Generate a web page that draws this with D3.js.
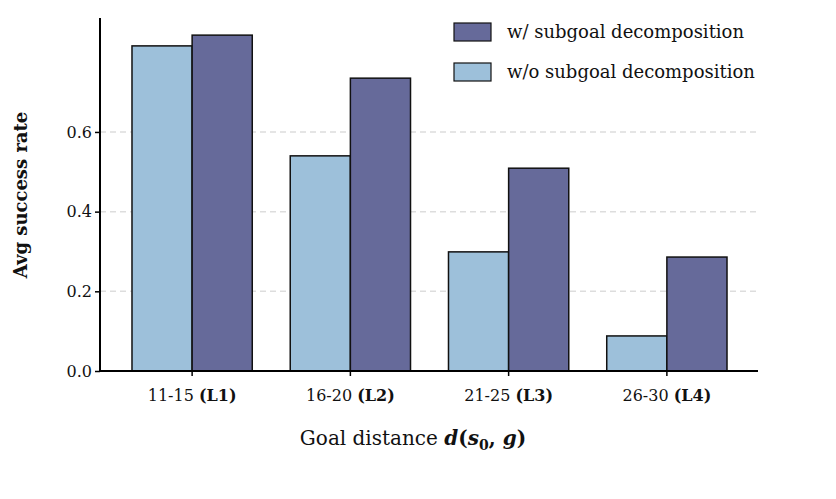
<!DOCTYPE html>
<html><head><meta charset="utf-8">
<script src="https://cdn.jsdelivr.net/npm/d3@7"></script>
<style>body{margin:0;background:#fff}text{font-family:"DejaVu Serif",serif}</style>
</head><body><svg id="c" width="836" height="499"></svg>
<script>
const categories = ["11-15", "16-20", "21-25", "26-30"];
const levels = ["(L1)", "(L2)", "(L3)", "(L4)"];
const withoutDecomp = [0.816, 0.540, 0.299, 0.088];
const withDecomp = [0.843, 0.735, 0.509, 0.286];
const yTicks = [0, 0.2, 0.4, 0.6];
const seriesNames = ["w/o subgoal decomposition", "w/ subgoal decomposition"];
const colors = ["#9dc0da", "#666a9a"];

const svg = d3.select("#c");
const x = d3.scaleBand().domain(categories).range([113, 746]).paddingInner(0.24).paddingOuter(0.12);
const xs = d3.scaleBand().domain([0, 1]).range([0, x.bandwidth()]);
const y = d3.scaleLinear().domain([0, 0.886]).range([371, 18]);

svg.append("g").selectAll("line").data(yTicks.slice(1)).join("line")
  .attr("x1", 100).attr("x2", 758).attr("y1", d => y(d)).attr("y2", d => y(d))
  .attr("stroke", "#dddddd").attr("stroke-width", 1.5).attr("stroke-dasharray", "6,4");

const series = [withoutDecomp, withDecomp];
series.forEach((vals, si) => {
  svg.append("g").selectAll("rect").data(vals).join("rect")
    .attr("x", (d, i) => x(categories[i]) + xs(si))
    .attr("width", xs.bandwidth())
    .attr("y", d => y(d)).attr("height", d => y(0) - y(d))
    .attr("fill", colors[si]).attr("stroke", "#111").attr("stroke-width", 1.5);
});

const ya = svg.append("g").attr("transform", "translate(100,0)")
  .call(d3.axisLeft(y).tickValues(yTicks).tickFormat(d3.format(".1f")).tickSize(5));
ya.select(".domain").attr("stroke-width", 2).attr("d", "M0," + y(0) + "V18");
ya.selectAll("text").attr("font-size", 16).attr("fill", "#111");
ya.selectAll(".tick line").attr("stroke-width", 1.5);

const xa = svg.append("g").attr("transform", "translate(0," + y(0) + ")")
  .call(d3.axisBottom(x).tickSize(5).tickFormat(""));
xa.select(".domain").attr("stroke-width", 2).attr("d", "M100,0H758");
xa.selectAll(".tick line").attr("stroke-width", 1.5);
xa.selectAll(".tick").append("text").attr("y", 30).attr("fill", "#111").attr("font-size", 16)
  .attr("text-anchor", "middle")
  .each(function(d, i) {
    const t = d3.select(this);
    t.append("tspan").text(d + " ");
    t.append("tspan").attr("font-weight", "bold").text(levels[i]);
  });

svg.append("text").attr("transform", "translate(27,195) rotate(-90)").attr("text-anchor", "middle")
  .attr("font-size", 18).attr("font-weight", "bold").attr("fill", "#111").text("Avg success rate");

const xl = svg.append("text").attr("x", 413).attr("y", 445).attr("text-anchor", "middle")
  .attr("font-size", 20).attr("fill", "#111");
xl.append("tspan").text("Goal distance ");
xl.append("tspan").attr("font-weight", "bold").attr("font-style", "italic").text("d");
xl.append("tspan").attr("font-weight", "bold").text("(");
xl.append("tspan").attr("font-weight", "bold").attr("font-style", "italic").text("s");
xl.append("tspan").attr("font-weight", "bold").attr("font-size", 14).attr("dy", 5).text("0");
xl.append("tspan").attr("font-weight", "bold").attr("dy", -5).text(", ");
xl.append("tspan").attr("font-weight", "bold").attr("font-style", "italic").text("g");
xl.append("tspan").attr("font-weight", "bold").text(")");

const legend = [[seriesNames[1], colors[1]], [seriesNames[0], colors[0]]];
legend.forEach((l, i) => {
  const yy = 23 + i * 40;
  svg.append("rect").attr("x", 454).attr("y", yy).attr("width", 37).attr("height", 18)
    .attr("fill", l[1]).attr("stroke", "#111").attr("stroke-width", 1.2);
  svg.append("text").attr("x", 507).attr("y", yy + 15).attr("font-size", 18).attr("fill", "#111").text(l[0]);
});
</script></body></html>
